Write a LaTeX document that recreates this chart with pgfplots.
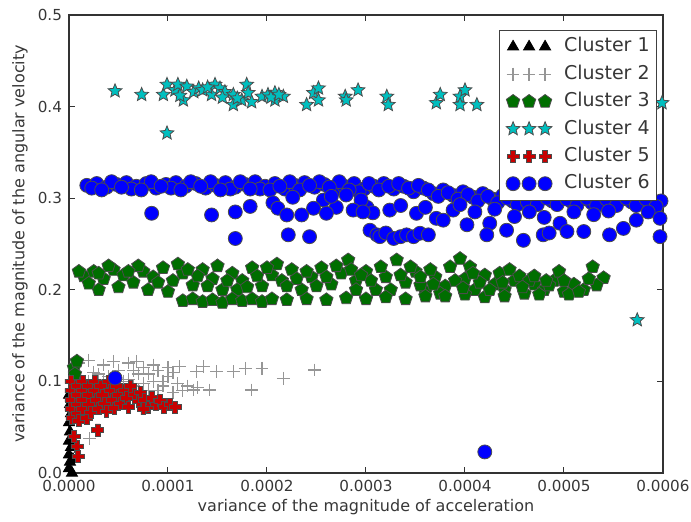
\documentclass[border=0pt]{standalone}
\usepackage{fontspec}
\setmainfont{DejaVu Sans}
\usepackage{pgfplots}
\pgfplotsset{compat=1.18}
\usetikzlibrary{plotmarks}
\definecolor{cgreen}{RGB}{0,110,0}
\definecolor{ccyan}{RGB}{0,191,191}
\definecolor{cblue}{RGB}{0,0,255}
\definecolor{cred}{RGB}{200,0,0}
\definecolor{cgray}{RGB}{150,150,150}
\definecolor{txt}{RGB}{55,55,55}
\pgfdeclareplotmark{fstar}{%
  \pgfpathmoveto{\pgfpointpolar{90}{\pgfplotmarksize}}%
  \pgfpathlineto{\pgfpointpolar{126}{0.45\pgfplotmarksize}}%
  \pgfpathlineto{\pgfpointpolar{162}{\pgfplotmarksize}}%
  \pgfpathlineto{\pgfpointpolar{198}{0.45\pgfplotmarksize}}%
  \pgfpathlineto{\pgfpointpolar{234}{\pgfplotmarksize}}%
  \pgfpathlineto{\pgfpointpolar{270}{0.45\pgfplotmarksize}}%
  \pgfpathlineto{\pgfpointpolar{306}{\pgfplotmarksize}}%
  \pgfpathlineto{\pgfpointpolar{342}{0.45\pgfplotmarksize}}%
  \pgfpathlineto{\pgfpointpolar{18}{\pgfplotmarksize}}%
  \pgfpathlineto{\pgfpointpolar{54}{0.45\pgfplotmarksize}}%
  \pgfpathclose
  \pgfusepathqfillstroke}
\pgfdeclareplotmark{fplus}{%
  \pgfpathmoveto{\pgfpoint{0.38\pgfplotmarksize}{\pgfplotmarksize}}%
  \pgfpathlineto{\pgfpoint{0.38\pgfplotmarksize}{0.38\pgfplotmarksize}}%
  \pgfpathlineto{\pgfpoint{\pgfplotmarksize}{0.38\pgfplotmarksize}}%
  \pgfpathlineto{\pgfpoint{\pgfplotmarksize}{-0.38\pgfplotmarksize}}%
  \pgfpathlineto{\pgfpoint{0.38\pgfplotmarksize}{-0.38\pgfplotmarksize}}%
  \pgfpathlineto{\pgfpoint{0.38\pgfplotmarksize}{-\pgfplotmarksize}}%
  \pgfpathlineto{\pgfpoint{-0.38\pgfplotmarksize}{-\pgfplotmarksize}}%
  \pgfpathlineto{\pgfpoint{-0.38\pgfplotmarksize}{-0.38\pgfplotmarksize}}%
  \pgfpathlineto{\pgfpoint{-\pgfplotmarksize}{-0.38\pgfplotmarksize}}%
  \pgfpathlineto{\pgfpoint{-\pgfplotmarksize}{0.38\pgfplotmarksize}}%
  \pgfpathlineto{\pgfpoint{-0.38\pgfplotmarksize}{0.38\pgfplotmarksize}}%
  \pgfpathlineto{\pgfpoint{-0.38\pgfplotmarksize}{\pgfplotmarksize}}%
  \pgfpathclose
  \pgfusepathqfillstroke}
\begin{document}
\begin{tikzpicture}
\begin{axis}[
  scale only axis, width=297pt, height=229pt,
  xmin=0, xmax=0.0006, ymin=0, ymax=0.5,
  xtick={0,0.0001,0.0002,0.0003,0.0004,0.0005,0.0006},
  xticklabels={0.0000,0.0001,0.0002,0.0003,0.0004,0.0005,0.0006},
  ytick={0,0.1,0.2,0.3,0.4,0.5},
  yticklabels={0.0,0.1,0.2,0.3,0.4,0.5},
  scaled x ticks=false,
  tick align=inside, major tick length=3pt,
  every tick/.style={black!80, line width=0.5pt},
  axis line style={black!80, line width=0.6pt},
  tick label style={font=\fontsize{7.6}{9}\selectfont, text=txt},
  /pgf/number format/assume math mode=true,
  label style={font=\fontsize{8}{10}\selectfont, text=txt},
  xlabel={variance of the magnitude of acceleration},
  ylabel={variance of the magnitude of the angular velocity},
  xlabel style={at={(axis description cs:0.5,-0.074)}, anchor=center},
  ylabel style={at={(axis description cs:-0.0825,0.5)}, anchor=center},
  legend style={at={(0.99,0.967)}, anchor=north east, draw=black!75, fill=white,
    font=\fontsize{9.5}{11}\selectfont, text=txt, inner sep=3.5pt, row sep=4.5pt,
    nodes={inner sep=0pt, text height=7.2pt, text depth=2pt},
    /tikz/every odd column/.append style={column sep=6pt}},
  legend cell align=left,
  legend image code/.code={\draw[#1,only marks] plot coordinates {(0pt,0pt)(8pt,0pt)(16pt,0pt)};},
]
% Cluster 1
\addplot[only marks, mark=triangle*, mark size=3.2pt, draw=black, fill=black] coordinates {
(0.00e-4,0.005) (0.01e-4,0.012) (0.00e-4,0.020) (0.02e-4,0.028) (0.00e-4,0.035)
(0.01e-4,0.045) (0.00e-4,0.055) (0.02e-4,0.065) (0.01e-4,0.075) (0.00e-4,0.085)
(0.03e-4,0.000) (0.04e-4,0.015)
};
\addlegendentry{Cluster 1}
% Cluster 2
\addplot[only marks, mark=+, mark size=3.2pt, draw=cgray, line width=0.6pt] coordinates {
(0.20e-4,0.100) (0.25e-4,0.110) (0.30e-4,0.095) (0.35e-4,0.118) (0.40e-4,0.105)
(0.45e-4,0.090) (0.50e-4,0.112) (0.55e-4,0.100) (0.60e-4,0.120) (0.65e-4,0.095)
(0.70e-4,0.108) (0.75e-4,0.115) (0.80e-4,0.090) (0.85e-4,0.100) (0.90e-4,0.112)
(0.95e-4,0.095) (1.00e-4,0.105) (1.05e-4,0.088) (1.10e-4,0.098) (0.30e-4,0.108)
(0.45e-4,0.122) (0.55e-4,0.088) (0.65e-4,0.112) (0.75e-4,0.098) (0.85e-4,0.118)
(0.95e-4,0.100) (1.00e-4,0.115) (0.40e-4,0.092) (0.60e-4,0.102) (0.70e-4,0.090)
(0.90e-4,0.090) (1.12e-4,0.116) (1.29e-4,0.1106) (1.36e-4,0.116) (1.49e-4,0.1106)
(1.66e-4,0.1106) (1.78e-4,0.1143) (1.95e-4,0.1143) (2.165e-4,0.1034) (2.48e-4,0.1124)
(1.845e-4,0.0906) (1.42e-4,0.0906) (1.256e-4,0.0906) (1.20e-4,0.095) (1.15e-4,0.090)
(1.30e-4,0.093) (0.21e-4,0.038) (0.15e-4,0.070) (0.10e-4,0.120) (0.20e-4,0.123)
(0.35e-4,0.102) (0.50e-4,0.096) (0.80e-4,0.108) (1.05e-4,0.110) (0.68e-4,0.122)
};
\addlegendentry{Cluster 2}
% Cluster 3
\addplot[only marks, mark=pentagon*, mark size=3.5pt, draw=black!70, fill=cgreen, line width=0.4pt] coordinates {
(0.15e-4,0.215) (0.25e-4,0.220) (0.35e-4,0.212) (0.45e-4,0.222) (0.55e-4,0.216)
(0.65e-4,0.208) (0.75e-4,0.220) (0.85e-4,0.214) (0.95e-4,0.224) (1.05e-4,0.210)
(1.15e-4,0.218) (1.25e-4,0.205) (1.35e-4,0.222) (1.45e-4,0.212) (1.55e-4,0.200)
(1.65e-4,0.218) (1.75e-4,0.210) (1.85e-4,0.224) (1.95e-4,0.204) (2.05e-4,0.216)
(2.15e-4,0.210) (2.25e-4,0.222) (2.35e-4,0.200) (2.45e-4,0.214) (2.55e-4,0.224)
(2.65e-4,0.206) (2.75e-4,0.218) (2.82e-4,0.2325) (2.90e-4,0.210) (3.00e-4,0.220)
(3.10e-4,0.200) (3.20e-4,0.214) (3.31e-4,0.2325) (3.40e-4,0.208) (3.50e-4,0.220)
(3.60e-4,0.198) (3.70e-4,0.214) (3.80e-4,0.204) (3.95e-4,0.234) (4.00e-4,0.212)
(4.10e-4,0.200) (4.20e-4,0.216) (4.30e-4,0.206) (4.40e-4,0.200) (4.50e-4,0.210)
(4.60e-4,0.196) (4.70e-4,0.206) (4.80e-4,0.200) (4.90e-4,0.210) (5.00e-4,0.198)
(5.10e-4,0.206) (5.29e-4,0.225) (5.40e-4,0.213) (5.20e-4,0.200)
(0.30e-4,0.200) (0.50e-4,0.203) (0.80e-4,0.200) (1.00e-4,0.198) (0.20e-4,0.207)
(0.40e-4,0.226) (0.70e-4,0.226) (1.10e-4,0.228) (1.30e-4,0.215) (1.50e-4,0.226)
(1.70e-4,0.200) (1.90e-4,0.215) (2.10e-4,0.228) (2.30e-4,0.212) (2.50e-4,0.204)
(2.70e-4,0.226) (2.90e-4,0.200) (3.05e-4,0.210) (3.25e-4,0.200) (3.45e-4,0.225)
(3.55e-4,0.205) (3.65e-4,0.222) (3.75e-4,0.196) (3.85e-4,0.225) (3.90e-4,0.210)
(4.05e-4,0.225) (4.15e-4,0.208) (4.35e-4,0.218) (4.45e-4,0.222) (4.55e-4,0.215)
(4.65e-4,0.210) (4.75e-4,0.195) (4.85e-4,0.205) (4.95e-4,0.220) (5.05e-4,0.195)
(1.15e-4,0.188) (1.25e-4,0.190) (1.35e-4,0.187) (1.45e-4,0.189) (1.55e-4,0.186)
(1.65e-4,0.190) (1.75e-4,0.188) (1.85e-4,0.190) (1.95e-4,0.187) (2.05e-4,0.190)
(2.20e-4,0.189) (2.40e-4,0.190) (2.60e-4,0.189) (2.80e-4,0.191) (3.00e-4,0.190)
(3.20e-4,0.192) (3.40e-4,0.190) (3.60e-4,0.193) (3.80e-4,0.193) (4.00e-4,0.195)
(4.20e-4,0.192) (4.40e-4,0.193)
(0.10e-4,0.220) (0.30e-4,0.218) (0.60e-4,0.220) (0.90e-4,0.208) (1.20e-4,0.222)
(1.40e-4,0.204) (1.60e-4,0.210) (1.80e-4,0.203) (2.00e-4,0.224) (2.20e-4,0.204)
(2.40e-4,0.220) (2.60e-4,0.214) (2.85e-4,0.222) (2.95e-4,0.216) (3.15e-4,0.225)
(3.35e-4,0.216) (3.55e-4,0.214) (3.68e-4,0.206) (3.98e-4,0.202) (4.08e-4,0.218)
(4.25e-4,0.200) (4.38e-4,0.208) (4.58e-4,0.203) (4.70e-4,0.215) (4.82e-4,0.210)
(5.00e-4,0.210) (5.15e-4,0.198) (5.33e-4,0.205) (5.25e-4,0.212)
(0.05e-4,0.115) (0.08e-4,0.122) (0.06e-4,0.108)
};
\addlegendentry{Cluster 3}
% Cluster 4
\addplot[only marks, mark=fstar, mark size=3.6pt, draw=black!70, fill=ccyan, line width=0.4pt] coordinates {
(0.465e-4,0.417) (0.734e-4,0.413) (0.953e-4,0.413) (0.99e-4,0.424) (0.99e-4,0.371)
(1.07e-4,0.418) (1.155e-4,0.407) (1.10e-4,0.424) (1.19e-4,0.422) (1.26e-4,0.416)
(1.31e-4,0.420) (1.44e-4,0.413) (1.475e-4,0.424) (1.525e-4,0.420) (1.575e-4,0.416)
(1.66e-4,0.413) (1.66e-4,0.402) (1.745e-4,0.407) (1.795e-4,0.424) (1.81e-4,0.415)
(1.845e-4,0.405) (1.95e-4,0.411) (2.01e-4,0.413) (2.08e-4,0.415) (2.08e-4,0.407)
(2.165e-4,0.411) (2.40e-4,0.402) (2.47e-4,0.415) (2.52e-4,0.420) (2.52e-4,0.407)
(2.79e-4,0.411) (2.80e-4,0.407) (2.92e-4,0.418) (3.21e-4,0.411) (3.225e-4,0.402)
(3.71e-4,0.404) (3.75e-4,0.413) (3.95e-4,0.411) (3.95e-4,0.402) (4.00e-4,0.418)
(4.12e-4,0.402) (5.74e-4,0.167) (5.99e-4,0.404) (6.02e-4,0.374)
(1.12e-4,0.412) (1.35e-4,0.418) (1.40e-4,0.421) (1.55e-4,0.410) (1.70e-4,0.409)
(2.04e-4,0.410) (2.12e-4,0.413)
};
\addlegendentry{Cluster 4}
% Cluster 5
\addplot[only marks, mark=fplus, mark size=3.0pt, draw=black!70, fill=cred, line width=0.4pt] coordinates {
(0.02e-4,0.100) (0.02e-4,0.090) (0.02e-4,0.080) (0.02e-4,0.070) (0.03e-4,0.060)
(0.08e-4,0.095) (0.08e-4,0.085) (0.08e-4,0.075) (0.08e-4,0.065) (0.10e-4,0.057)
(0.14e-4,0.100) (0.14e-4,0.090) (0.14e-4,0.080) (0.14e-4,0.070) (0.18e-4,0.060)
(0.20e-4,0.095) (0.20e-4,0.085) (0.20e-4,0.075) (0.22e-4,0.066) (0.26e-4,0.100)
(0.26e-4,0.090) (0.28e-4,0.080) (0.30e-4,0.070) (0.32e-4,0.095) (0.34e-4,0.085)
(0.36e-4,0.076) (0.38e-4,0.067) (0.40e-4,0.100) (0.42e-4,0.090) (0.44e-4,0.080)
(0.46e-4,0.071) (0.48e-4,0.095) (0.50e-4,0.085) (0.52e-4,0.076) (0.56e-4,0.090)
(0.58e-4,0.082) (0.60e-4,0.072) (0.62e-4,0.095) (0.66e-4,0.086) (0.70e-4,0.078)
(0.72e-4,0.088) (0.76e-4,0.080) (0.80e-4,0.072) (0.84e-4,0.082) (0.88e-4,0.075)
(0.92e-4,0.079) (0.96e-4,0.072) (1.02e-4,0.075) (1.07e-4,0.072) (0.75e-4,0.070)
(0.29e-4,0.047) (0.08e-4,0.029) (0.09e-4,0.018) (0.05e-4,0.040)
};
\addlegendentry{Cluster 5}
% Cluster 6
\addplot[only marks, mark=*, mark size=3.5pt, draw=black!70, fill=cblue, line width=0.4pt] coordinates {
(0.18e-4,0.314) (0.28e-4,0.316) (0.38e-4,0.312) (0.48e-4,0.315) (0.58e-4,0.317)
(0.68e-4,0.313) (0.78e-4,0.316) (0.88e-4,0.311) (0.98e-4,0.315) (1.08e-4,0.317)
(1.18e-4,0.313) (1.28e-4,0.316) (1.38e-4,0.311) (1.48e-4,0.314) (1.58e-4,0.317)
(1.68e-4,0.312) (1.78e-4,0.315) (1.88e-4,0.318) (1.98e-4,0.313) (2.08e-4,0.316)
(2.18e-4,0.310) (2.28e-4,0.314) (2.38e-4,0.317) (2.48e-4,0.312) (2.58e-4,0.315)
(2.68e-4,0.309) (2.78e-4,0.313) (2.88e-4,0.316) (2.98e-4,0.310) (3.08e-4,0.313)
(3.18e-4,0.316) (3.28e-4,0.310) (3.38e-4,0.313) (3.48e-4,0.307) (3.58e-4,0.311)
(3.68e-4,0.305) (3.78e-4,0.309) (3.88e-4,0.303) (3.98e-4,0.307) (4.08e-4,0.301)
(4.18e-4,0.305) (4.28e-4,0.299) (4.38e-4,0.303) (4.48e-4,0.297) (4.58e-4,0.301)
(4.68e-4,0.298) (4.78e-4,0.302) (4.88e-4,0.297) (4.98e-4,0.300) (5.08e-4,0.296)
(5.18e-4,0.299) (5.28e-4,0.295) (5.38e-4,0.298) (5.48e-4,0.296) (5.58e-4,0.299)
(5.68e-4,0.296) (5.78e-4,0.298) (5.88e-4,0.294) (5.98e-4,0.297)
(0.23e-4,0.311) (0.43e-4,0.318) (0.63e-4,0.310) (0.83e-4,0.318) (1.03e-4,0.311)
(1.23e-4,0.318) (1.43e-4,0.318) (1.63e-4,0.310) (1.93e-4,0.310) (2.23e-4,0.318)
(2.53e-4,0.318) (2.73e-4,0.318) (2.93e-4,0.307)
(0.33e-4,0.309) (0.53e-4,0.312) (0.73e-4,0.309) (0.93e-4,0.313) (1.13e-4,0.309)
(1.33e-4,0.313) (1.53e-4,0.309) (1.73e-4,0.318) (1.83e-4,0.310) (2.03e-4,0.309)
(2.13e-4,0.313) (2.33e-4,0.309) (2.43e-4,0.314) (2.63e-4,0.312) (2.83e-4,0.309)
(3.03e-4,0.316) (3.13e-4,0.309) (3.23e-4,0.313) (3.33e-4,0.316) (3.43e-4,0.311)
(3.53e-4,0.314) (3.63e-4,0.309) (3.73e-4,0.302) (3.83e-4,0.306) (3.93e-4,0.299)
(4.03e-4,0.304) (4.13e-4,0.297) (4.23e-4,0.302) (4.33e-4,0.295) (4.43e-4,0.300)
(4.53e-4,0.293) (4.63e-4,0.296) (4.73e-4,0.293) (4.83e-4,0.300) (4.93e-4,0.293)
(5.03e-4,0.299) (5.13e-4,0.292) (5.23e-4,0.300) (5.33e-4,0.292) (5.43e-4,0.299)
(5.53e-4,0.292) (5.63e-4,0.300) (5.73e-4,0.292) (5.83e-4,0.299) (5.93e-4,0.291)
(2.06e-4,0.295) (2.26e-4,0.301) (2.57e-4,0.298) (2.70e-4,0.290) (3.01e-4,0.290)
(3.07e-4,0.284) (2.65e-4,0.302) (2.95e-4,0.298)
(3.24e-4,0.287) (3.35e-4,0.292) (3.51e-4,0.2835) (3.60e-4,0.290) (3.71e-4,0.278)
(3.78e-4,0.276) (3.88e-4,0.287) (3.95e-4,0.293) (4.02e-4,0.271) (4.10e-4,0.285)
(4.25e-4,0.2726) (4.30e-4,0.288) (4.42e-4,0.265) (4.50e-4,0.280) (4.65e-4,0.285)
(4.80e-4,0.279) (4.96e-4,0.2726) (5.10e-4,0.285) (5.30e-4,0.282) (5.45e-4,0.286)
(5.60e-4,0.267) (5.73e-4,0.276) (5.85e-4,0.285) (5.97e-4,0.278)
(3.04e-4,0.265) (3.11e-4,0.260) (3.14e-4,0.258) (3.20e-4,0.262) (3.28e-4,0.256)
(3.35e-4,0.258) (3.41e-4,0.260) (3.48e-4,0.258) (3.545e-4,0.2617) (3.63e-4,0.260)
(4.22e-4,0.260) (4.59e-4,0.254) (4.79e-4,0.260) (4.85e-4,0.262) (5.03e-4,0.2636)
(5.20e-4,0.2636) (5.46e-4,0.260) (5.97e-4,0.258)
(0.835e-4,0.2835) (1.44e-4,0.2817) (1.68e-4,0.285) (1.83e-4,0.291) (1.68e-4,0.256)
(2.11e-4,0.289) (2.20e-4,0.2817) (2.215e-4,0.260) (2.43e-4,0.258) (2.35e-4,0.2817)
(2.47e-4,0.289) (2.60e-4,0.2835) (2.80e-4,0.3035) (2.87e-4,0.287) (2.97e-4,0.285)
(0.465e-4,0.1037) (4.20e-4,0.023)
};
\addlegendentry{Cluster 6}
\end{axis}
\pgfresetboundingbox
\path[use as bounding box] (-34.5pt,-24.5pt) rectangle (311pt,236.5pt);
\end{tikzpicture}
\end{document}
